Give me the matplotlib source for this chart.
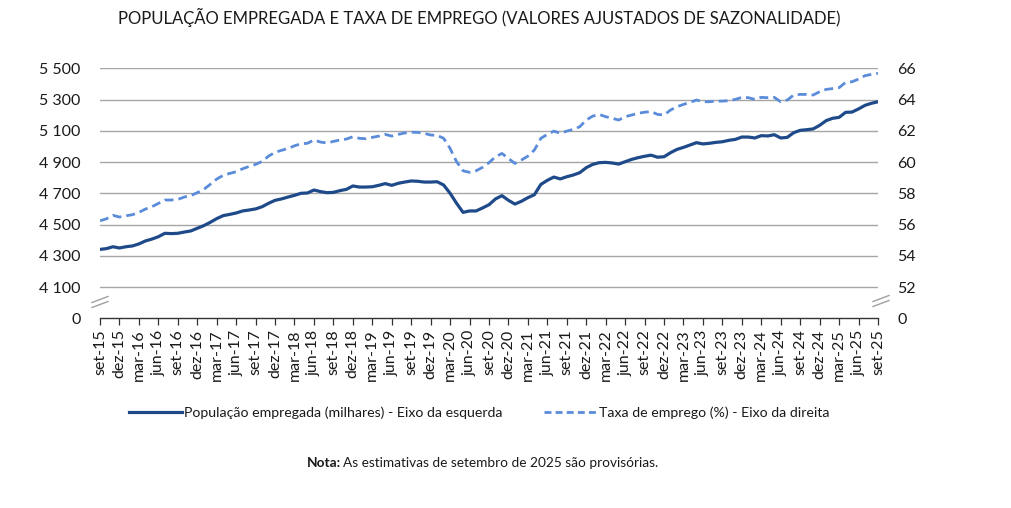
import matplotlib
matplotlib.use("Agg")
import matplotlib.pyplot as plt
from matplotlib.lines import Line2D
import numpy as np

# ---- data (monthly, set-15 .. set-25) ----
populacao = [4341, 4346, 4358, 4350, 4358, 4363, 4376, 4395, 4407, 4422,
             4444, 4442, 4444, 4452, 4459, 4476, 4493, 4514, 4538, 4557,
             4565, 4574, 4587, 4593, 4600, 4614, 4636, 4655, 4664, 4676,
             4687, 4700, 4702, 4721, 4711, 4704, 4706, 4717, 4725, 4747,
             4740, 4740, 4742, 4751, 4762, 4751, 4764, 4772, 4779, 4777,
             4772, 4772, 4774, 4753, 4700, 4636, 4578, 4587, 4587, 4606,
             4627, 4664, 4685, 4655, 4631, 4649, 4672, 4691, 4757, 4783,
             4804, 4792, 4806, 4817, 4832, 4864, 4885, 4896, 4898, 4894,
             4887, 4902, 4917, 4928, 4937, 4944, 4931, 4934, 4960, 4981,
             4994, 5009, 5024, 5016, 5020, 5026, 5030, 5039, 5045, 5060,
             5060, 5054, 5069, 5067, 5075, 5054, 5058, 5088, 5103, 5107,
             5112, 5135, 5165, 5180, 5186, 5218, 5220, 5240, 5263, 5276,
             5286]

taxa = [56.24, 56.37, 56.59, 56.48, 56.56, 56.63, 56.78, 56.99, 57.14, 57.35,
        57.57, 57.57, 57.61, 57.76, 57.85, 58.04, 58.25, 58.57, 58.91, 59.15,
        59.27, 59.38, 59.57, 59.72, 59.85, 60.04, 60.38, 60.62, 60.75, 60.87,
        61.04, 61.17, 61.20, 61.41, 61.28, 61.22, 61.32, 61.41, 61.47, 61.62,
        61.52, 61.49, 61.58, 61.66, 61.77, 61.66, 61.77, 61.86, 61.91, 61.90,
        61.84, 61.73, 61.71, 61.52, 60.87, 60.02, 59.44, 59.34, 59.44, 59.66,
        59.96, 60.34, 60.55, 60.23, 59.91, 60.13, 60.38, 60.77, 61.52, 61.77,
        61.98, 61.84, 61.98, 62.09, 62.26, 62.69, 62.94, 63.05, 62.90, 62.80,
        62.69, 62.90, 63.01, 63.12, 63.19, 63.23, 63.05, 63.01, 63.33, 63.54,
        63.69, 63.82, 63.97, 63.86, 63.86, 63.90, 63.90, 63.93, 64.01, 64.14,
        64.12, 64.01, 64.14, 64.12, 64.14, 63.86, 63.97, 64.29, 64.33, 64.33,
        64.29, 64.50, 64.65, 64.70, 64.76, 65.10, 65.14, 65.31, 65.53, 65.61,
        65.68]

tick_labels = ["set-15", "dez-15", "mar-16", "jun-16", "set-16", "dez-16",
               "mar-17", "jun-17", "set-17", "dez-17", "mar-18", "jun-18",
               "set-18", "dez-18", "mar-19", "jun-19", "set-19", "dez-19",
               "mar-20", "jun-20", "set-20", "dez-20", "mar-21", "jun-21",
               "set-21", "dez-21", "mar-22", "jun-22", "set-22", "dez-22",
               "mar-23", "jun-23", "set-23", "dez-23", "mar-24", "jun-24",
               "set-24", "dez-24", "mar-25", "jun-25", "set-25"]

left_ticks = [3900, 4100, 4300, 4500, 4700, 4900, 5100, 5300, 5500]
left_labels = ["0", "4 100", "4 300", "4 500", "4 700", "4 900", "5 100", "5 300", "5 500"]
right_ticks = [50, 52, 54, 56, 58, 60, 62, 64, 66]
right_labels = ["0", "52", "54", "56", "58", "60", "62", "64", "66"]

title = "POPULAÇÃO EMPREGADA E TAXA DE EMPREGO (VALORES AJUSTADOS DE SAZONALIDADE)"
leg_pop = "População empregada (milhares) - Eixo da esquerda"
leg_taxa = "Taxa de emprego (%) - Eixo da direita"

# ---- style ----
FONT = "Lato"
plt.rcParams["font.family"] = [FONT, "DejaVu Sans"]
TXT = "#1a1a1a"
C_POP = "#1F4A8A"
C_TAXA = "#5A8CDA"
GRID = "#A6A6A6"

W, H = 1012, 508
fig = plt.figure(figsize=(W / 100, H / 100), dpi=100)
x0, x1 = 100, 878
ytop, ybot = 68.3, 318.3
ax = fig.add_axes([x0 / W, 1 - ybot / H, (x1 - x0) / W, (ybot - ytop) / H])
ax2 = ax.twinx()

x = np.arange(len(populacao))
ax.plot(x, populacao, color=C_POP, lw=2.3, solid_capstyle="round", zorder=3)
ax2.plot(x, taxa, color=C_TAXA, lw=2.0, dashes=(3.2, 1.8), zorder=3)

ax.set_xlim(0, len(populacao) - 1)
ax.set_ylim(3900, 5500)
ax2.set_ylim(50, 66)

for yv in left_ticks[1:]:
    ax.axhline(yv, color=GRID, lw=1.0, zorder=1)

ax.set_yticks(left_ticks)
ax.set_yticklabels(left_labels)
ax2.set_yticks(right_ticks)
ax2.set_yticklabels(right_labels)
ax.tick_params(axis="y", length=0, pad=14, labelsize=11.5, labelcolor=TXT)
ax2.tick_params(axis="y", length=0, pad=14, labelsize=11.5, labelcolor=TXT)

ax.set_xticks(np.arange(0, len(populacao), 3))
ax.set_xticklabels(tick_labels, rotation=90)
ax.tick_params(axis="x", direction="out", length=5, width=0.9, color="#333333",
               labelsize=11.5, labelcolor=TXT, pad=3)

for a in (ax, ax2):
    for s in ("left", "right", "top"):
        a.spines[s].set_visible(False)
ax2.spines["bottom"].set_visible(False)
ax.spines["bottom"].set_color("#333333")
ax.spines["bottom"].set_linewidth(1.0)

# axis break marks
def brk(xc, yc):
    for dy in (-2.5, 2.5):
        fig.add_artist(Line2D([(xc - 8) / W, (xc + 8) / W],
                              [1 - (yc + dy + 3) / H, 1 - (yc + dy - 3) / H],
                              color="#A0A0A0", lw=1.0))
brk(100, 302)
brk(881, 301)

fig.text(479.5 / W, 1 - 17 / H, title, ha="center", va="center",
         fontsize=12, color=TXT)

handles = [Line2D([], [], color=C_POP, lw=2.3),
           Line2D([], [], color=C_TAXA, lw=2.0, dashes=(2.5, 1.5))]
fig.legend(handles, [leg_pop, leg_taxa], loc="center", ncol=2,
           bbox_to_anchor=(479.5 / W, 1 - 413 / H), frameon=False,
           fontsize=10.2, handlelength=3.7, handletextpad=0.2,
           columnspacing=2.9, labelcolor=TXT)

fig.text(341 / W, 1 - 463 / H, "Nota:", ha="right", va="center",
         fontsize=9.8, fontweight="bold", color=TXT)
fig.text(343 / W, 1 - 463 / H, "As estimativas de setembro de 2025 são provisórias.",
         ha="left", va="center", fontsize=9.8, color=TXT)

fig.savefig("out.png", dpi=100)
